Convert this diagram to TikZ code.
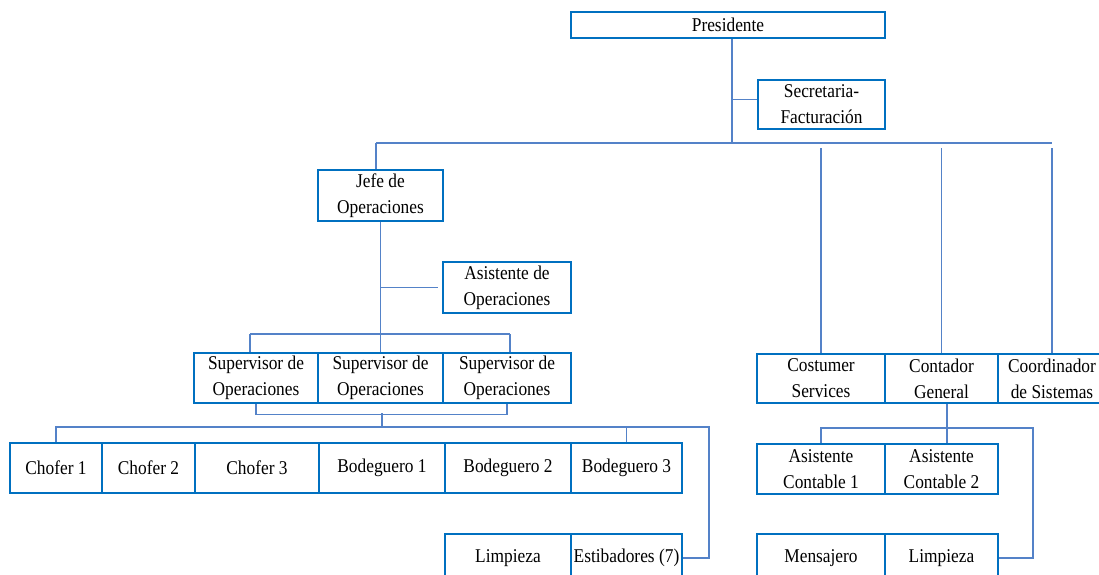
\documentclass[tikz,border=0pt]{standalone}
\usepackage{fontspec}
\setmainfont{Liberation Serif}[FakeStretch=0.89]
\usepackage{tikz}
\usetikzlibrary{calc}
\definecolor{cajaazul}{RGB}{0,112,192}
\definecolor{lineaazul}{RGB}{84,130,200}

\begin{document}
\begin{tikzpicture}[x=1pt, y=-1pt,
  cargo/.style={draw=cajaazul, line width=2.2pt, fill=white, inner sep=0pt, align=center,
    font=\fontsize{19.5}{26}\selectfont},
  enlace/.style={draw=lineaazul, line width=1.1pt}]
\clip (0,0) rectangle (1099,574);
\fill[white] (0,0) rectangle (1099,574);

% direccion
\node[cargo, minimum width=314pt, minimum height=26pt] (pres) at (728,25) {Presidente};
\node[cargo, minimum width=127pt, minimum height=49pt] (secre) at (821.5,104.5) {Secretaria-\\Facturación};

% operaciones
\node[cargo, minimum width=125pt, minimum height=51pt] (jefe) at (380.5,195.5) {Jefe de\\Operaciones};
\node[cargo, minimum width=128pt, minimum height=51pt] (asis) at (507,287.5) {Asistente de\\Operaciones};
\node[cargo, minimum width=124pt, minimum height=50pt] (sup1) at (256,378) {Supervisor de\\Operaciones};
\node[cargo, minimum width=125pt, minimum height=50pt] (sup2) at (380.5,378) {Supervisor de\\Operaciones};
\node[cargo, minimum width=128pt, minimum height=50pt] (sup3) at (507,378) {Supervisor de\\Operaciones};

\node[cargo, minimum width=92pt, minimum height=50pt] (ch1) at (56,468) {Chofer 1};
\node[cargo, minimum width=93pt, minimum height=50pt] (ch2) at (148.5,468) {Chofer 2};
\node[cargo, minimum width=124pt, minimum height=50pt] (ch3) at (257,468) {Chofer 3};
\node[cargo, minimum width=126pt, minimum height=50pt] (bod1) at (382,468) {Bodeguero 1};
\node[cargo, minimum width=126pt, minimum height=50pt] (bod2) at (508,468) {Bodeguero 2};
\node[cargo, minimum width=111pt, minimum height=50pt] (bod3) at (626.5,468) {Bodeguero 3};

\node[cargo, minimum width=126pt, minimum height=48pt] (limp1) at (508,558) {Limpieza};
\node[cargo, minimum width=111pt, minimum height=48pt] (estib) at (626.5,558) {Estibadores (7)};

% administracion
\node[cargo, minimum width=128pt, minimum height=49pt] (cost) at (821,378.5) {Costumer\\Services};
\node[cargo, minimum width=113pt, minimum height=49pt] (cont) at (941.5,378.5) {Contador\\General};
\node[cargo, minimum width=108pt, minimum height=49pt] (coord) at (1052,378.5) {Coordinador\\de Sistemas};

\node[cargo, minimum width=128pt, minimum height=50pt] (asc1) at (821,469) {Asistente\\Contable 1};
\node[cargo, minimum width=113pt, minimum height=50pt] (asc2) at (941.5,469) {Asistente\\Contable 2};

\node[cargo, minimum width=128pt, minimum height=48pt] (mens) at (821,558) {Mensajero};
\node[cargo, minimum width=113pt, minimum height=48pt] (limp2) at (941.5,558) {Limpieza};

% enlaces
\coordinate (bus) at (732,143);
\coordinate (busL) at (376,143);
\coordinate (busR) at (1052,143);
\coordinate (busgap) at (0,148);
\draw[enlace] (pres.south -| bus) -- (bus);
\draw[enlace] ([yshift=5pt]secre.west -| bus) -- ([yshift=5pt]secre.west);
\draw[enlace] (busL) -- (busR);
\draw[enlace] (busL) -- (busL |- jefe.north);
\draw[enlace] (cost.north) -- (cost.north |- busgap);
\draw[enlace] (cont.north) -- (cont.north |- busgap);
\draw[enlace] (coord.north) -- (coord.north |- busgap);

\coordinate (supbus) at (380,334);
\coordinate (supL) at (250,334);
\coordinate (supR) at (510,334);
\draw[enlace] (jefe.south) -- (jefe.south |- supbus);
\draw[enlace] (asis.west -| jefe.south) -- ([xshift=-4pt]asis.west);
\draw[enlace] (supL) -- (supR);
\draw[enlace] (supL) -- (supL |- sup1.north);
\draw[enlace] (sup2.north) -- (sup2.north |- supbus);
\draw[enlace] (supR) -- (supR |- sup3.north);
\draw[enlace] (sup1.south) -- ++(0,10) -| (sup3.south);

\coordinate (opbus) at (382,427);
\coordinate (opR) at (709,427);
\draw[enlace] (opbus) -- ++(0,-14);
\draw[enlace] (ch1.north) -- (ch1.north |- opbus) -- (opR) |- (estib.east);
\draw[enlace] (bod3.north) -- (bod3.north |- opbus);

\coordinate (accbus) at (947,428);
\coordinate (accR) at (1033,428);
\draw[enlace] (cont.south -| accbus) -- (accbus);
\draw[enlace] (asc1.north) -- (asc1.north |- accbus) -- (accR) |- (limp2.east);
\draw[enlace] (accbus) -- (accbus |- asc2.north);
\end{tikzpicture}
\end{document}
